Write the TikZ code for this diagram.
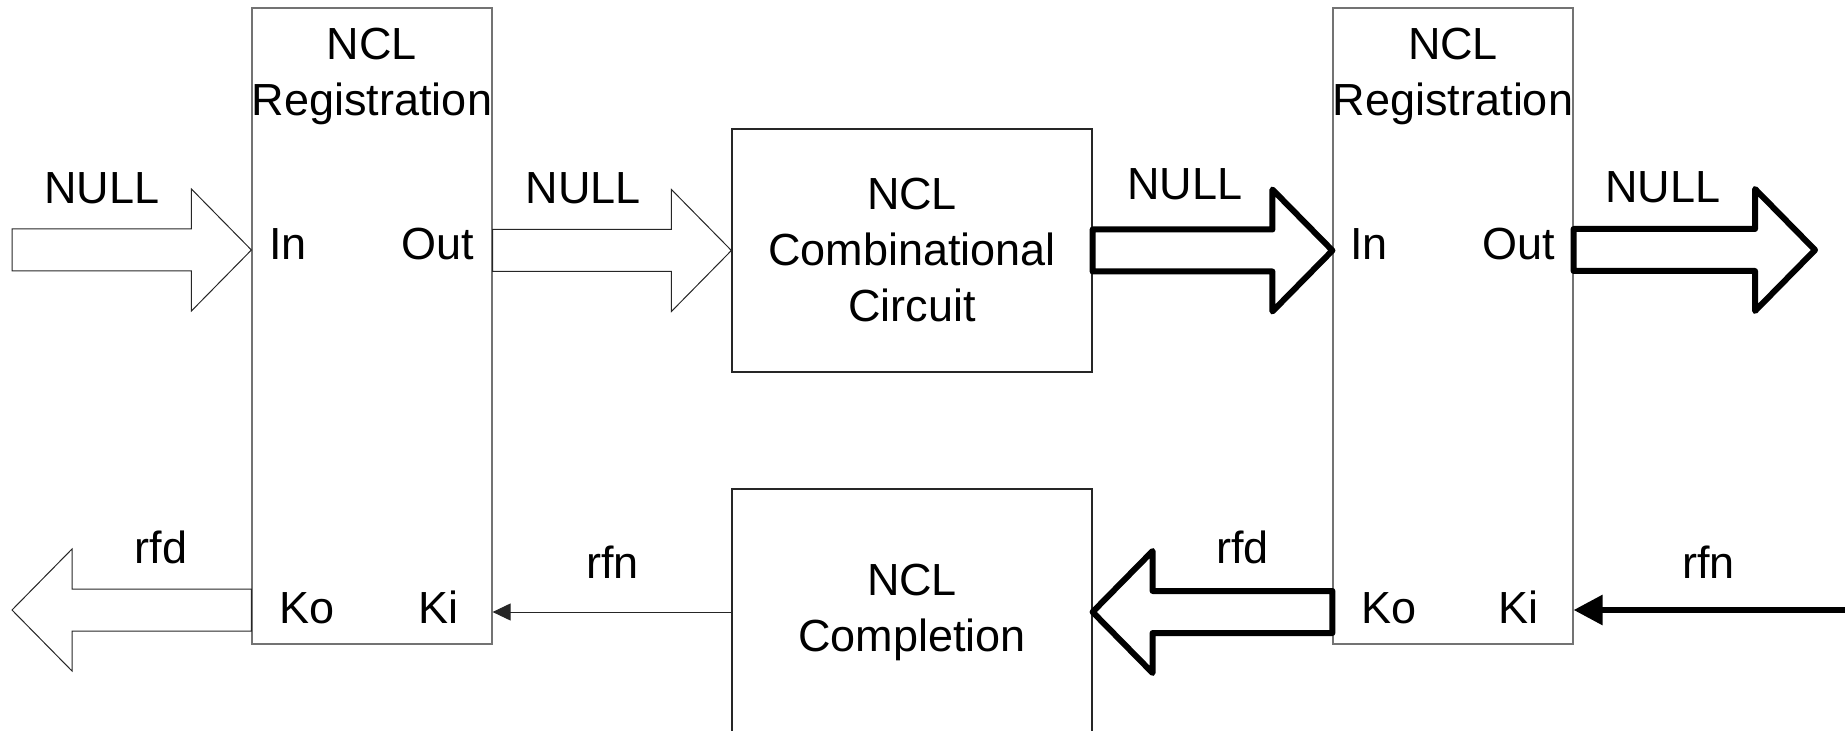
\documentclass[tikz,border=0pt]{standalone}
\usepackage{fontspec}
\setmainfont{Liberation Sans}
\usetikzlibrary{arrows.meta,calc}
\newcommand\blockarrow[3]{% style, tail, tip
  \draw[#1] let \p1=(#2), \p2=(#3), \n1={sign(\x2-\x1)} in
    ({\x1},{\y2+10.5pt}) -- ({\x2-(\n1)*30pt},{\y2+10.5pt}) -- ({\x2-(\n1)*30pt},{\y2+30.5pt})
    -- ({\x2},{\y2}) -- ({\x2-(\n1)*30pt},{\y2-30.5pt}) -- ({\x2-(\n1)*30pt},{\y2-10.5pt})
    -- ({\x1},{\y2-10.5pt}) -- cycle;}
\begin{document}
\begin{tikzpicture}[x=0.5pt,y=-0.5pt,
  txt/.style={font=\fontsize{22.5}{28}\selectfont, inner sep=0pt, align=center},
  lbl/.style={txt, anchor=base},
  regbox/.style={draw=black!55, line width=0.6pt, minimum width=120pt, minimum height=318pt, inner sep=0pt},
  logicbox/.style={txt, draw=black!85, line width=0.6pt, minimum width=180pt, inner sep=0pt},
  thinblk/.style={draw=black!85, line width=0.5pt, line join=miter},
  thickblk/.style={draw=black, line width=3pt, line join=round},
  thinline/.style={draw=black!85, line width=0.5pt, -{Triangle[length=9pt,width=8.5pt]}},
  thickline/.style={draw=black, line width=3pt, -{Triangle[length=14.5pt,width=14.5pt]}}]
\useasboundingbox (0,0) rectangle (1845,731);
% boxes
\node[regbox] (reg1) at (372,326) {};
\node[regbox] (reg2) at (1453,326) {};
\node[logicbox, minimum height=121.5pt] (comb) at (912,250.5) {NCL\\Combinational\\Circuit};
\node[logicbox, minimum height=123pt] (comp) at (912,612) {NCL\\Completion};
% register texts
\node[txt, anchor=north] (r1title) at (372,28) {NCL\\Registration};
\node[txt, anchor=north] (r2title) at (1453,28) {NCL\\Registration};
\node[lbl] (r1in) at (288,260) {In};
\node[lbl] (r1out) at (438,260) {Out};
\node[lbl] (r1ko) at (307.5,623) {Ko};
\node[lbl] (r1ki) at (438,623) {Ki};
\node[lbl] (r2in) at (1369,260) {In};
\node[lbl] (r2out) at (1518.5,260) {Out};
\node[lbl] (r2ko) at (1388.5,623) {Ko};
\node[lbl] (r2ki) at (1518,623) {Ki};
% arrow labels
\node[lbl] (null1) at (101.7,204) {NULL};
\node[lbl] (null2) at (583.5,204) {NULL};
\node[lbl] (null3) at (1185,200) {NULL};
\node[lbl] (null4) at (1663,203) {NULL};
\node[lbl] (rfd1) at (161,563) {rfd};
\node[lbl] (rfn1) at (612.5,578) {rfn};
\node[lbl] (rfd2) at (1242.5,563) {rfd};
\node[lbl] (rfn2) at (1708.5,578) {rfn};
% free ends
\coordinate (insrc) at (12,250);
\coordinate (outdst) at (1815,250);
\coordinate (rfddst) at (12,610);
\coordinate (rfnsrc) at (1850,610);
% data path
\blockarrow{thinblk}{insrc}{insrc -| reg1.west}
\blockarrow{thinblk}{reg1.east |- comb.west}{comb.west}
\blockarrow{thickblk}{comb.east}{comb.east -| reg2.west}
\blockarrow{thickblk}{outdst -| reg2.east}{outdst}
% handshake path
\blockarrow{thinblk}{rfddst -| reg1.west}{rfddst}
\blockarrow{thickblk}{comp.east -| reg2.west}{comp.east}
\draw[thinline] (comp.west) -- (comp.west -| reg1.east);
\draw[thickline] (rfnsrc) -- (rfnsrc -| reg2.east);
\end{tikzpicture}
\end{document}
